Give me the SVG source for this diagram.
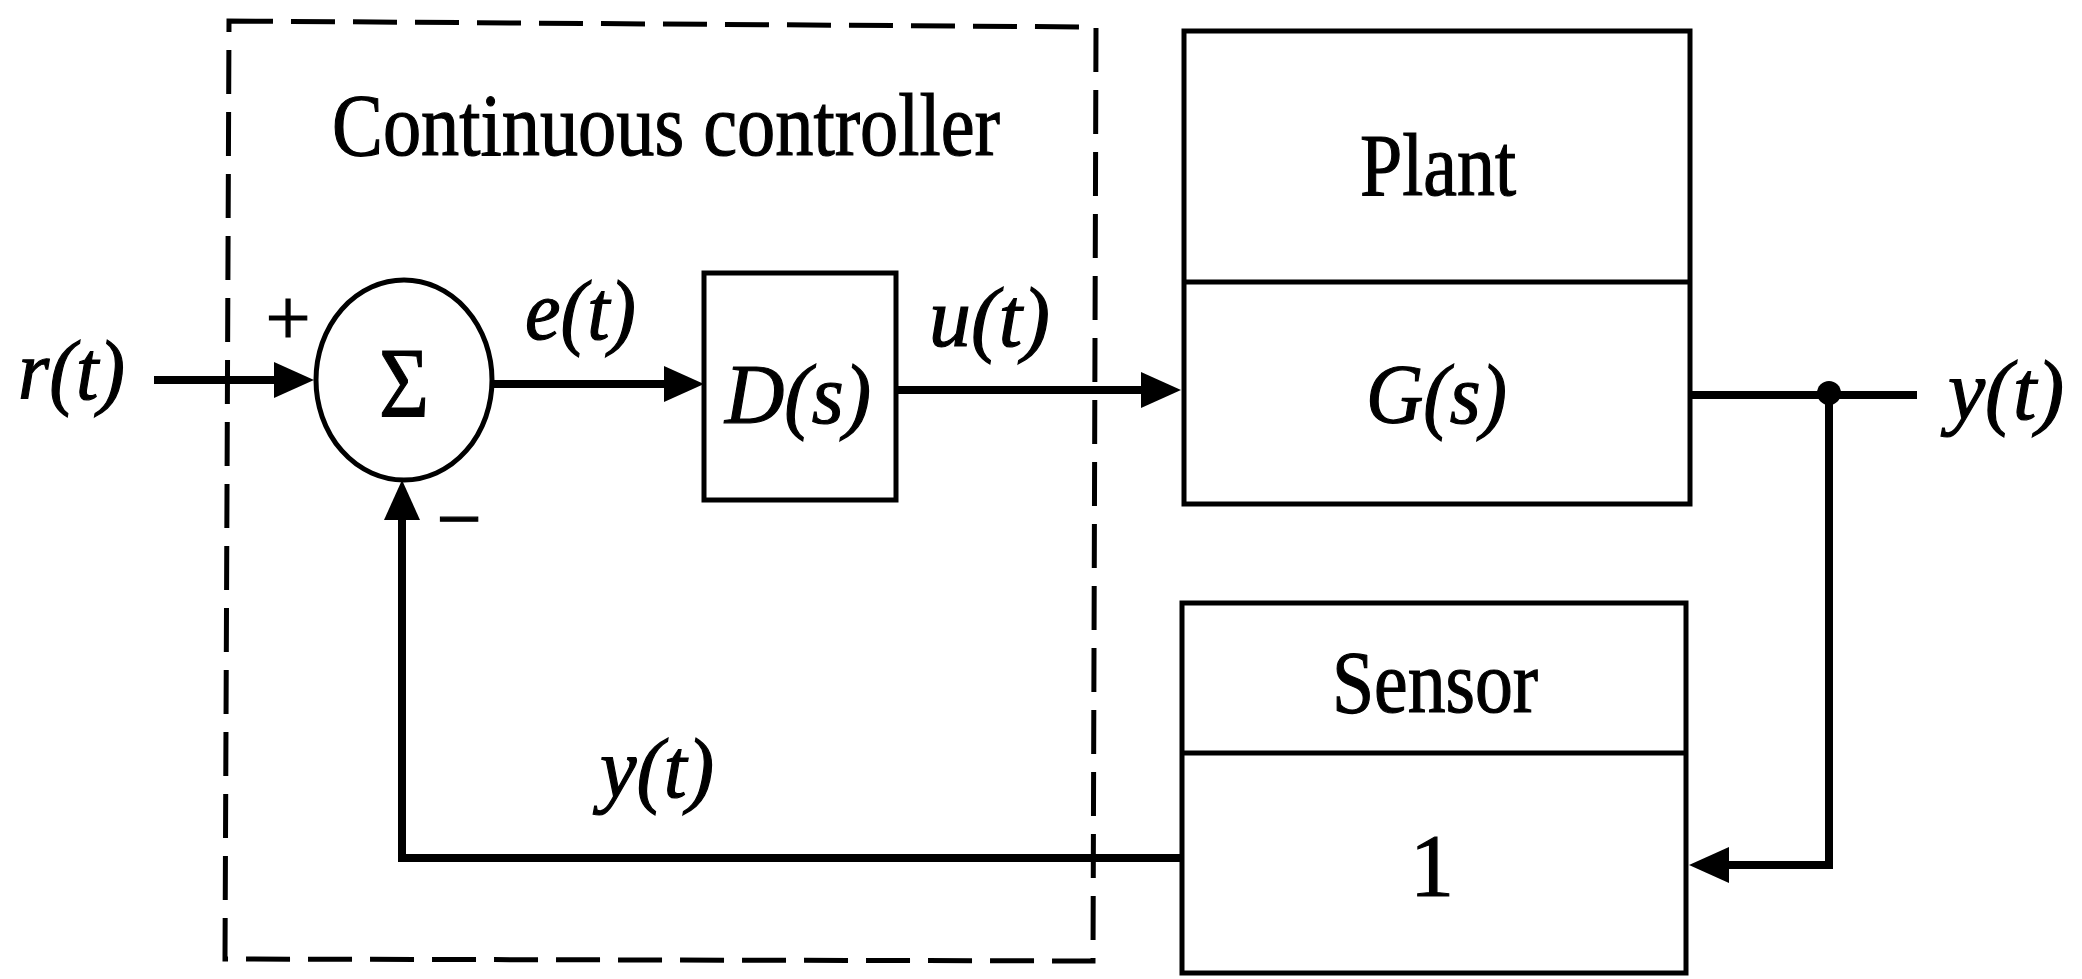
<svg xmlns="http://www.w3.org/2000/svg" width="2082" height="979" viewBox="0 0 2082 979">
<style>
text{font-family:"Liberation Serif","Times New Roman",serif;fill:#000;stroke:#000;stroke-width:1.2}
.m{font-style:italic;font-size:84px}
.t{font-size:88px}
.box{fill:none;stroke:#000;stroke-width:5}
.sig{fill:none;stroke:#000;stroke-width:8}
</style>
<defs>
<marker id="ah" markerUnits="userSpaceOnUse" viewBox="0 0 40 36" markerWidth="40" markerHeight="36" refX="20" refY="18" orient="auto">
<path d="M0,0 L40,18 L0,36 Z" fill="#000"/>
</marker>
</defs>
<rect x="0" y="0" width="2082" height="979" fill="#fff"/>
<g id="controller">
<path d="M229,21 L1096,27 L1093,961 L225,959 Z" fill="none" stroke="#000" stroke-width="5" stroke-dasharray="44 18"/>
<text class="t" x="332" y="155" textLength="668" lengthAdjust="spacingAndGlyphs">Continuous controller</text>
</g>
<g id="input">
<text class="m" x="18" y="399" textLength="107" lengthAdjust="spacingAndGlyphs">r(t)</text>
</g>
<g id="sum">
<ellipse cx="404" cy="380" rx="88" ry="100" fill="none" stroke="#000" stroke-width="5"/>
<text x="404" y="416" font-size="100" text-anchor="middle" textLength="50" lengthAdjust="spacingAndGlyphs" stroke-width="2.5">Σ</text>
<text x="288" y="345" font-size="80" text-anchor="middle" stroke-width="2.5">+</text>
<text x="459" y="546" font-size="80" text-anchor="middle" stroke-width="3">−</text>
</g>
<g id="D">
<rect class="box" x="704" y="273" width="192" height="227"/>
<text class="m" x="725" y="423" font-size="88" textLength="146" lengthAdjust="spacingAndGlyphs">D(s)</text>
</g>
<g id="plant">
<rect class="box" x="1184" y="31" width="506" height="473"/>
<line x1="1184" y1="282" x2="1690" y2="282" stroke="#000" stroke-width="5"/>
<text class="t" x="1360" y="195" font-size="90" textLength="156" lengthAdjust="spacingAndGlyphs">Plant</text>
<text class="m" x="1366" y="423" font-size="88" textLength="141" lengthAdjust="spacingAndGlyphs">G(s)</text>
</g>
<g id="sensor">
<rect class="box" x="1182" y="603" width="504" height="370"/>
<line x1="1182" y1="753" x2="1686" y2="753" stroke="#000" stroke-width="5"/>
<text class="t" x="1332" y="712" font-size="92" textLength="206" lengthAdjust="spacingAndGlyphs">Sensor</text>
<text class="t" x="1432" y="895" font-size="90" text-anchor="middle">1</text>
</g>
<g id="output">
<text class="m" x="1948" y="419" textLength="116" lengthAdjust="spacingAndGlyphs">y(t)</text>
</g>
<g id="connectors">
<path class="sig" d="M154,380 H294" marker-end="url(#ah)"/>
<path class="sig" d="M493,384 H684" marker-end="url(#ah)"/>
<path class="sig" d="M896,390 H1161" marker-end="url(#ah)"/>
<path class="sig" d="M1690,395 H1917"/>
<circle cx="1829" cy="393" r="12" fill="#000"/>
<path class="sig" d="M1829,395 V865 H1709" marker-end="url(#ah)"/>
<path class="sig" d="M1182,858 H402 V500" marker-end="url(#ah)"/>
<text class="m" x="600" y="797" textLength="114" lengthAdjust="spacingAndGlyphs">y(t)</text>
<text class="m" x="525" y="339" textLength="111" lengthAdjust="spacingAndGlyphs">e(t)</text>
<text class="m" x="929" y="346" textLength="121" lengthAdjust="spacingAndGlyphs">u(t)</text>
</g>
</svg>
